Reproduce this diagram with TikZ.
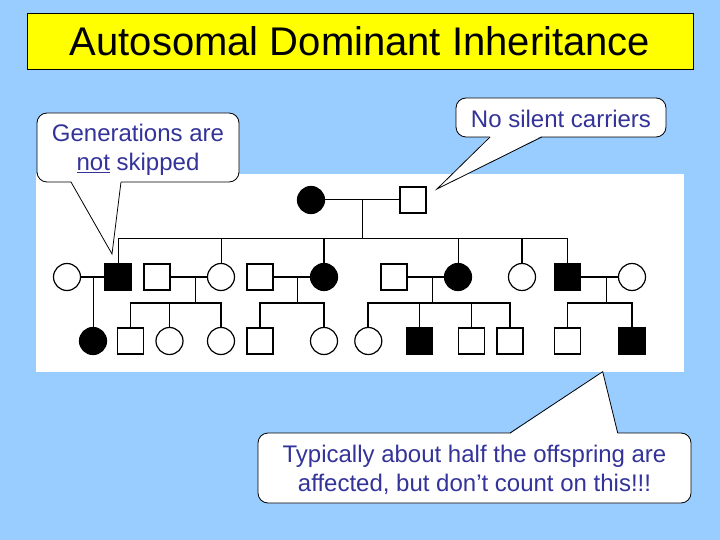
\documentclass[tikz,border=0pt]{standalone}
\usepackage{fontspec}
\setmainfont{Liberation Sans}
\definecolor{bgblue}{RGB}{153,204,255}
\definecolor{txtblue}{RGB}{51,51,153}
\definecolor{titleyellow}{RGB}{255,255,0}
\begin{document}
\begin{tikzpicture}[x=1pt,y=-1pt,
  male/.style={rectangle, draw, fill=white, minimum size=26pt, inner sep=0pt, line width=1.2pt},
  female/.style={circle, draw, fill=white, minimum size=27pt, inner sep=0pt, line width=1.2pt},
  aff/.style={fill=black},
  thinln/.style={line width=1pt},
  thickln/.style={line width=1.7pt},
  callout/.style={draw, fill=white, rounded corners=10pt, line width=0.8pt, inner sep=0pt},
  callouttext/.style={text=txtblue, font=\fontsize{24}{29}\selectfont, align=center, inner sep=0pt},
  tailfill/.style={fill=white},
  tailline/.style={draw, line width=0.8pt}]
\useasboundingbox (0,0) rectangle (720,540);
\fill[bgblue] (0,0) rectangle (720,540);
% title
\node[draw, fill=titleyellow, line width=0.8pt, minimum width=666pt, minimum height=56pt, inner sep=0pt,
  font=\fontsize{40}{44}\selectfont] (title) at (360,41) {Autosomal Dominant Inheritance};
% pedigree panel
\fill[white] (36,174) rectangle (684,372);
% generation I
\node[female, aff] (gm) at (311,200) {};
\node[male] (gf) at (413,200) {};
% generation II
\node[female] (c1) at (67,277) {};
\node[male, aff] (s2) at (118,277) {};
\node[male] (s3) at (157,277) {};
\node[female] (c4) at (221,277) {};
\node[male] (s5) at (260,277) {};
\node[female, aff] (c6) at (324,277) {};
\node[male] (s7) at (394,277) {};
\node[female, aff] (c8) at (458,277) {};
\node[female] (c9) at (522,277) {};
\node[male, aff] (s10) at (567.5,277) {};
\node[female] (c11) at (632,277) {};
% generation III
\node[female, aff] (g1) at (93,341) {};
\node[male] (g2) at (130.5,341) {};
\node[female] (g3) at (169.5,341) {};
\node[female] (g4) at (221,341) {};
\node[male] (g5) at (260,341) {};
\node[female] (g6) at (324,341) {};
\node[female] (g7) at (368.3,341) {};
\node[male, aff] (g8) at (419.5,341) {};
\node[male] (g9) at (471.3,341) {};
\node[male] (g10) at (510,341) {};
\node[male] (g11) at (567.5,341) {};
\node[male, aff] (g12) at (632,341) {};
% coordinates
\coordinate (m0) at (362,200);
\coordinate (sib0) at (362,238);
\coordinate (m1) at (93,277);
\coordinate (m2) at (195.7,277);
\coordinate (m2s) at (195.7,302.7);
\coordinate (m3) at (297.7,277);
\coordinate (m3s) at (297.7,302.7);
\coordinate (m4) at (432.3,277);
\coordinate (m4s) at (432.3,302.7);
\coordinate (m5) at (606.3,277);
\coordinate (m5s) at (606.3,302.7);
% gen I connections
\draw[thinln] (gm.east) -- (gf.west);
\draw[thinln] (m0) -- (sib0);
\draw[thinln] (s2.north) |- (s10.north |- sib0) -- (s10.north);
\draw[thinln] (c4.north) -- (c4.north |- sib0);
\draw[thickln] (c6.north) -- (c6.north |- sib0);
\draw[thinln] (c8.north) -- (c8.north |- sib0);
\draw[thickln] (c9.north) -- (c9.north |- sib0);
% gen II marriages
\draw[thickln] (c1.east) -- (s2.west);
\draw[thickln] (s3.east) -- (c4.west);
\draw[thickln] (s5.east) -- (c6.west);
\draw[thickln] (s7.east) -- (c8.west);
\draw[thickln] (s10.east) -- (c11.west);
% descents
\draw[thinln] (m1) -- (g1.north);
\draw[thinln] (m2) -- (m2s);
\draw[thickln] (g2.north) |- (m2s -| g4.north) -- (g4.north);
\draw[thinln] (g3.north) -- (g3.north |- m2s);
\draw[thinln] (m3) -- (m3s);
\draw[thickln] (g5.north) |- (m3s -| g6.north) -- (g6.north);
\draw[thinln] (m4) -- (m4s);
\draw[thickln] (g7.north) |- (m4s -| g10.north) -- (g10.north);
\draw[thinln] (g8.north) -- (g8.north |- m4s);
\draw[thinln] (g9.north) -- (g9.north |- m4s);
\draw[thinln] (m5) -- (m5s);
\draw[thickln] (g11.north) |- (m5s -| g12.north) -- (g12.north);
% callout 1
\node[callout, minimum width=202pt, minimum height=69pt] (cb1) at (138,147.5) {};
\node[callouttext] (cb1t) at (138,150) {Generations are\\\underline{not} skipped};
\coordinate (t1tip) at (112,254);
\fill[tailfill] (71,181) -- (t1tip) -- (121,181) -- cycle;
\draw[tailline] (71,182) -- (t1tip) -- (121,182);
% callout 2
\node[callout, minimum width=210pt, minimum height=39pt] (cb2) at (561,117.5) {};
\node[callouttext] (cb2t) at (561,119) {No silent carriers};
\coordinate (t2tip) at (437,189);
\fill[tailfill] (490,136) -- (t2tip) -- (541.7,136) -- cycle;
\draw[tailline] (490,137) -- (t2tip) -- (541.7,137);
% callout 3
\node[callout, minimum width=433pt, minimum height=70pt] (cb3) at (474.5,468) {};
\node[callouttext] (cb3t) at (474.5,470) {Typically about half the offspring are\\affected, but don’t count on this!!!};
\coordinate (t3tip) at (602.7,371.7);
\fill[tailfill] (510,434) -- (t3tip) -- (617.7,434) -- cycle;
\draw[tailline] (510,433) -- (t3tip) -- (617.7,433);
\end{tikzpicture}
\end{document}
